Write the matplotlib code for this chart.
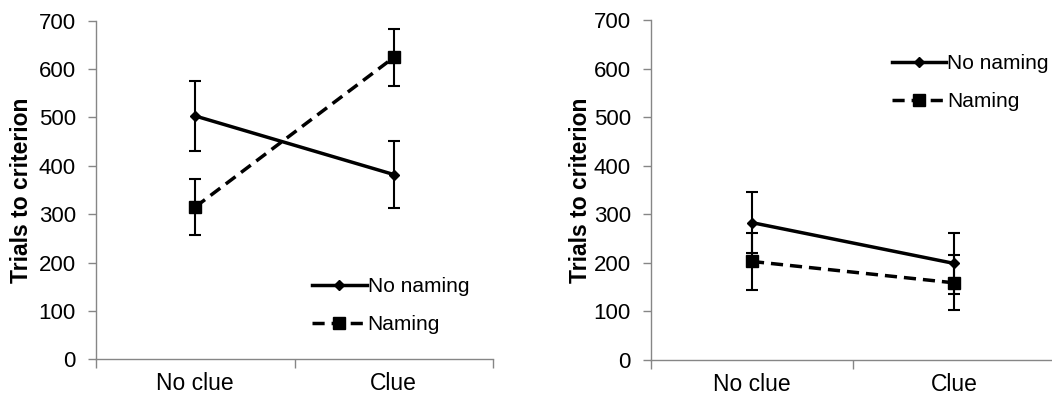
import matplotlib.pyplot as plt
from matplotlib.lines import Line2D

plt.rcParams['font.family'] = ['Liberation Sans', 'DejaVu Sans']

conditions = ["No clue", "Clue"]
series = ["No naming", "Naming"]

# left panel
left_no_naming = [503, 382]
left_no_naming_err = [72, 70]
left_naming = [315, 624]
left_naming_err = [58, 58]

# right panel
right_no_naming = [283, 199]
right_no_naming_err = [63, 63]
right_naming = [203, 159]
right_naming_err = [59, 57]

GREY = "#868686"

fig = plt.figure(figsize=(10.52, 4.08), dpi=100)
ax1 = fig.add_axes([0.0913, 0.1193, 0.3773, 0.830])
ax2 = fig.add_axes([0.6188, 0.1176, 0.3840, 0.833])


def panel(ax, nn, nn_err, nm, nm_err, leg_anchor, ylabel_x):
    pos = [0.5, 1.5]
    ax.errorbar(pos, nn, yerr=nn_err, color="black", lw=2.5,
                marker="D", ms=5.5, ecolor="black", elinewidth=1.5,
                capsize=4.5, capthick=1.5, zorder=3)
    ax.errorbar(pos, nm, yerr=nm_err, color="black", lw=2.5, ls=(0, (3.5, 2)),
                marker="s", ms=8, ecolor="black", elinewidth=1.5,
                capsize=4.5, capthick=1.5, zorder=3)
    ax.set_xlim(0, 2)
    ax.set_ylim(0, 700)
    ax.set_yticks(range(0, 701, 100))
    ax.set_xticks([0, 1, 2])
    ax.set_xticklabels([])
    ax.set_xticks(pos, minor=True)
    ax.set_xticklabels(conditions, minor=True, fontsize=16.5)
    ax.tick_params(axis="x", which="minor", length=0, pad=9)
    ax.tick_params(axis="x", which="major", length=6.5, width=1, color=GREY)
    ax.tick_params(axis="y", length=5.5, width=1, color=GREY,
                   labelsize=16, pad=9)
    for s in ["top", "right"]:
        ax.spines[s].set_visible(False)
    for s in ["left", "bottom"]:
        ax.spines[s].set_color(GREY)
        ax.spines[s].set_linewidth(1)
    ax.set_ylabel("Trials to criterion", fontsize=16.5, fontweight="bold")
    ax.yaxis.set_label_coords(ylabel_x, 0.5)

    handles = [
        Line2D([], [], color="black", lw=2.5, marker="D", ms=5.5),
        Line2D([], [], color="black", lw=2.5, ls=(0, (3.5, 2)), marker="s", ms=8),
    ]
    ax.legend(handles, series, loc="upper left", bbox_to_anchor=leg_anchor,
              frameon=False, fontsize=15, handlelength=2.6,
              handletextpad=0.05, labelspacing=0.9, borderpad=0,
              borderaxespad=0)


panel(ax1, left_no_naming, left_no_naming_err, left_naming, left_naming_err,
      (0.545, 0.242), -0.16)
panel(ax2, right_no_naming, right_no_naming_err, right_naming, right_naming_err,
      (0.597, 0.899), -0.145)

fig.savefig("out.png", dpi=100, facecolor="white")
